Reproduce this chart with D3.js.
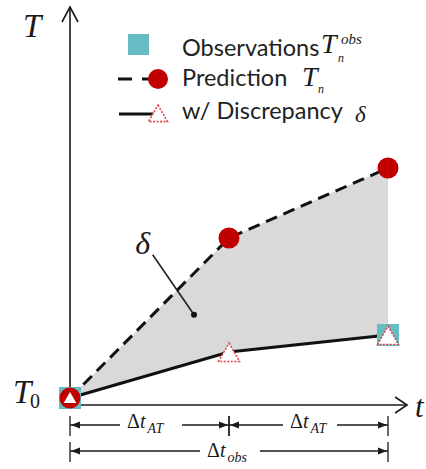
<!DOCTYPE html>
<html><head><meta charset="utf-8">
<script src="https://cdn.jsdelivr.net/npm/d3@7"></script>
<style>body{margin:0;background:#fff} svg{display:block}</style>
</head><body><svg id="chart" width="426" height="469"></svg>
<script>
// Time steps, in units of the assimilation interval Δt_AT
const timeSteps = [0, 1, 2];
// Temperature above T0 (arbitrary units)
const prediction = [0, 4.0, 5.75];
const withDiscrepancy = [0, 1.15, 1.575];
// Observations at the start and end of the observation window
const obsTimes = [0, 2];
const observations = [0, 1.575];
const legendLabels = ["Observations", "Prediction", "w/ Discrepancy"];

const svg = d3.select("#chart");
const x = d3.scaleLinear().domain([0, 2]).range([70, 388]);
const y = d3.scaleLinear().domain([0, 1]).range([398, 358]);

const serif = "'Liberation Serif', 'Times New Roman', serif";
const sans = "Lato, 'Open Sans', sans-serif";
const RED = "#c00000", TEAL = "#66bcc2", INK = "#1a1a1a";

// ---- shaded discrepancy region
const pts = timeSteps.map((t, i) => ({t, p: prediction[i], d: withDiscrepancy[i]}));
svg.append("path")
  .attr("d", d3.area().x(d => x(d.t)).y0(d => y(d.d)).y1(d => y(d.p))(pts))
  .attr("fill", "#d9d9d9");

// ---- axes with open arrow heads
const axisX0 = x(0), axisY = y(-0.175), topY = y(9.775), rightX = x(2.12);
const axes = svg.append("g").attr("stroke", INK).attr("stroke-width", 1.6).attr("fill", "none");
axes.append("line").attr("x1", axisX0).attr("y1", axisY).attr("x2", axisX0).attr("y2", topY);
axes.append("line").attr("x1", axisX0).attr("y1", axisY).attr("x2", rightX).attr("y2", axisY);
axes.append("path").attr("d", `M${axisX0 - 8},${topY + 15}L${axisX0},${topY}L${axisX0 + 8},${topY + 15}`);
axes.append("path").attr("d", `M${rightX - 12},${axisY - 8}L${rightX},${axisY}L${rightX - 12},${axisY + 8}`);

// ---- series lines
svg.append("path")
  .attr("d", d3.line().x(d => x(d.t)).y(d => y(d.p))(pts))
  .attr("fill", "none").attr("stroke", "#111").attr("stroke-width", 3)
  .attr("stroke-dasharray", "12,7");
svg.append("path")
  .attr("d", d3.line().x(d => x(d.t)).y(d => y(d.d))(pts))
  .attr("fill", "none").attr("stroke", "#111").attr("stroke-width", 3);

// ---- markers
const triPath = s => `M0,${-s}L${s * 1.05},${s * 0.85}L${-s * 1.05},${s * 0.85}Z`;
svg.selectAll("rect.obs").data(obsTimes.map((t, i) => ({t, v: observations[i]})))
  .join("rect").attr("class", "obs")
  .attr("x", d => x(d.t) - 11).attr("y", d => y(d.v) - 11)
  .attr("width", 22).attr("height", 22).attr("fill", TEAL);
svg.selectAll("circle.pred").data(pts).join("circle").attr("class", "pred")
  .attr("cx", d => x(d.t)).attr("cy", d => y(d.p)).attr("r", 10.5).attr("fill", RED);
svg.selectAll("path.disc").data(pts).join("path").attr("class", "disc")
  .attr("transform", d => `translate(${x(d.t)},${y(d.d) + (d.t === 0 ? 0 : 1)})`)
  .attr("d", d => triPath(d.t === 0 ? 6 : 10))
  .attr("fill", "#fff")
  .attr("stroke", d => d.t === 0 ? "none" : "#e0474c")
  .attr("stroke-width", 1.6).attr("stroke-dasharray", "2,1.5");

// ---- δ pointer
const dotX = x(0.78), dotY = y(2.08);
svg.append("line").attr("x1", x(0.52)).attr("y1", y(3.58)).attr("x2", dotX).attr("y2", dotY)
  .attr("stroke", "#222").attr("stroke-width", 1.6);
svg.append("circle").attr("cx", dotX).attr("cy", dotY).attr("r", 3).attr("fill", "#111");
svg.append("text").attr("x", x(0.41)).attr("y", y(3.6)).attr("font-family", serif)
  .attr("font-style", "italic").attr("font-size", 32).attr("fill", INK).text("δ");

// ---- axis labels
function mathText(g, px, py, size, str, italic = true) {
  return g.append("text").attr("x", px).attr("y", py).attr("font-family", serif)
    .attr("font-style", italic ? "italic" : "normal").attr("font-size", size)
    .attr("fill", INK).text(str);
}
mathText(svg, 23, 37, 33, "T");
mathText(svg, 13, 403, 33, "T");
mathText(svg, 30, 408, 20, "0", false);
mathText(svg, 415, 417, 31, "t");

// ---- dimension lines
const dimRows = [
  {from: 0, to: 1, yy: 425, label: "AT", gap: [120, 182]},
  {from: 1, to: 2, yy: 425, label: "AT", gap: [283, 337]},
  {from: 0, to: 2, yy: 451, label: "obs", gap: [200, 260]}
];
const dim = svg.append("g");
function arrowHead(px, py, dir) {
  dim.append("path").attr("d", `M${px},${py}L${px - dir * 9},${py - 3.5}L${px - dir * 9},${py + 3.5}Z`)
    .attr("fill", INK);
}
dimRows.forEach(r => {
  const x1 = x(timeSteps[r.from]), x2 = x(timeSteps[r.to]);
  dim.append("line").attr("x1", x1).attr("x2", r.gap[0]).attr("y1", r.yy).attr("y2", r.yy)
    .attr("stroke", INK).attr("stroke-width", 1.3);
  dim.append("line").attr("x1", r.gap[1]).attr("x2", x2).attr("y1", r.yy).attr("y2", r.yy)
    .attr("stroke", INK).attr("stroke-width", 1.3);
  arrowHead(x1 + 1, r.yy, -1);
  arrowHead(x2 - 1, r.yy, 1);
  [x1, x2].forEach(xx => dim.append("line").attr("x1", xx).attr("x2", xx)
    .attr("y1", r.yy - 9).attr("y2", r.yy + 11).attr("stroke", INK).attr("stroke-width", 1.3));
  const lx = r.gap[0] + 7, by = r.yy + (r.label === "obs" ? 6 : 3);
  const t = dim.append("text").attr("x", lx).attr("y", by).attr("font-family", serif)
    .attr("font-size", 20).attr("fill", INK);
  t.append("tspan").text("Δ");
  t.append("tspan").attr("font-style", "italic").text("t");
  t.append("tspan").attr("font-style", "italic").attr("font-size", 14).attr("dy", 5).attr("dx", 2).text(r.label);
});

// ---- legend
const legend = svg.append("g");
const rowsY = [44.5, 79, 114];
legend.append("rect").attr("x", 128).attr("y", rowsY[0] - 10.5).attr("width", 21).attr("height", 21).attr("fill", TEAL);
legend.append("line").attr("x1", 118).attr("x2", 158).attr("y1", rowsY[1]).attr("y2", rowsY[1])
  .attr("stroke", "#111").attr("stroke-width", 3).attr("stroke-dasharray", "14,10");
legend.append("circle").attr("cx", 158).attr("cy", rowsY[1]).attr("r", 10).attr("fill", RED);
legend.append("line").attr("x1", 119).attr("x2", 156).attr("y1", rowsY[2]).attr("y2", rowsY[2])
  .attr("stroke", "#111").attr("stroke-width", 3);
legend.append("path").attr("transform", `translate(158,${rowsY[2]})`).attr("d", triPath(9))
  .attr("fill", "#fff").attr("stroke", "#e0474c").attr("stroke-width", 1.6).attr("stroke-dasharray", "2,1.5");

const textBase = [56, 86, 119];
legendLabels.forEach((s, i) => legend.append("text").attr("x", 182).attr("y", textBase[i])
  .attr("font-family", sans).attr("font-size", 23.5).attr("fill", "#222").text(s));

// T_n^obs
mathText(legend, 321, 53, 28, "T");
mathText(legend, 341, 44, 15, "obs");
mathText(legend, 338, 62, 12, "n");
// T_n
mathText(legend, 302, 86, 28, "T");
mathText(legend, 318, 93, 12, "n");
// δ
mathText(legend, 355, 122, 23, "δ");
</script></body></html>
